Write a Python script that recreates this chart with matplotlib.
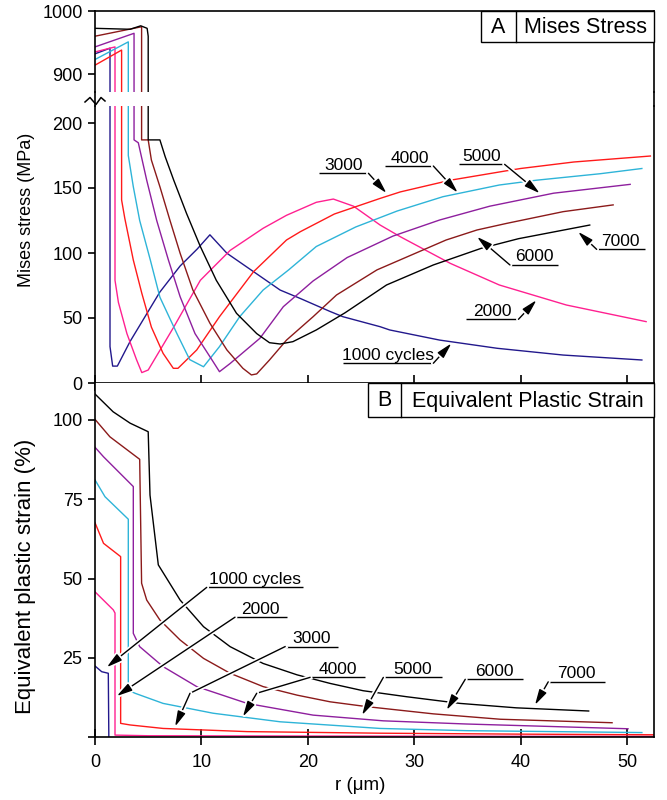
import matplotlib
matplotlib.use("Agg")
import matplotlib.pyplot as plt
import matplotlib.patheffects as pe
from matplotlib.lines import Line2D
from matplotlib.patches import Rectangle

plt.rcParams['font.family'] = ['Liberation Sans', 'DejaVu Sans']

# ---------------- data ----------------
cycles = [1000, 2000, 3000, 4000, 5000, 6000, 7000]
colors = ['#22188c', '#ff2090', '#ff1a1a', '#2eb4d8', '#8e1f9e', '#8b1a1a', '#000000']

# Panel A: Mises stress (MPa) vs r (um)
mises_r_1000 = [0, 1.41, 1.41, 1.66, 2.1, 3.3, 6.1, 8.0, 9.6, 10.8, 12.4, 17.4, 19.3, 22.1, 23.3, 26.8, 27.7, 32.4, 37.8, 44.0, 51.4]
mises_s_1000 = [932, 941, 28, 13, 13, 32, 70, 90, 103, 114, 99.8, 71.5, 65, 55, 51, 43.3, 40.8, 33, 26.7, 21.5, 17.7]

mises_r_2000 = [0, 1.88, 1.88, 2.2, 3.0, 3.9, 4.4, 5.0, 7.4, 9.9, 12.7, 15.8, 18.0, 20.8, 22.4, 24.3, 26.8, 28.7, 33.4, 38.0, 44.3, 51.8]
mises_s_2000 = [935, 943, 79, 62, 38, 18, 8, 10, 43, 79, 102, 119, 129, 139, 141.5, 136, 121.5, 112.5, 92, 75.4, 60, 47.2]

mises_r_3000 = [0, 2.5, 2.5, 2.8, 3.6, 4.4, 5.3, 6.4, 7.36, 7.8, 9.56, 11.7, 14.9, 18.0, 19.3, 22.5, 26.8, 28.7, 33.4, 38.5, 40.0, 45.0, 52.2]
mises_s_3000 = [914, 938, 140.8, 126.7, 94.6, 69, 43, 22.8, 11.3, 11.3, 25.4, 51, 85.6, 110, 116.4, 130, 142, 147, 156, 163, 165, 170, 174.6]

mises_r_4000 = [0, 3.13, 3.13, 3.6, 4.2, 5.2, 6.1, 7.7, 8.9, 10.2, 11.7, 13.6, 15.8, 18.2, 20.8, 24.5, 28.4, 32.7, 38.0, 41.5, 47.5, 51.4]
mises_s_4000 = [923, 951, 175, 151, 125, 94.6, 66, 38, 18, 12.5, 28, 51, 71.5, 87, 105, 120, 132.3, 143.3, 152.3, 156, 161, 165]

mises_r_5000 = [0, 3.67, 3.67, 4.07, 4.86, 5.8, 6.9, 8.0, 9.4, 11.0, 11.7, 12.7, 15.5, 17.7, 20.5, 23.7, 28.0, 32.4, 37.1, 43.1, 50.3]
mises_s_5000 = [943, 964.6, 187, 184.8, 156, 125, 94.6, 66.4, 38, 17.7, 8.7, 15, 34.4, 58.7, 78.5, 96.5, 113, 125.4, 136, 146, 152.8]

mises_r_6000 = [0, 4.38, 4.38, 5.0, 5.3, 6.1, 7.05, 8.0, 9.2, 10.8, 12.4, 13.9, 14.7, 15.2, 16.4, 18.0, 20.5, 22.7, 26.5, 33.0, 35.9, 38.7, 44.0, 48.7]
mises_s_6000 = [960, 975, 187, 187, 171.5, 151, 125, 99.8, 71.5, 46, 25.4, 11.3, 6.2, 7, 17.7, 33, 51, 67.7, 87, 110, 117.7, 122.8, 131.8, 137]

mises_r_7000 = [0, 3.3, 4.3, 4.9, 5.0, 5.0, 6.1, 6.6, 7.4, 8.6, 9.9, 11.4, 13.3, 15.2, 16.4, 17.4, 18.6, 20.8, 23.5, 27.4, 31.8, 36.3, 39.8, 46.5]
mises_s_7000 = [972.5, 971, 976.5, 972.5, 960, 187, 187, 174, 156, 130.5, 105, 79, 53.6, 38, 31, 30, 31.8, 40.8, 54, 75.4, 90.8, 103.6, 111, 121.5]

# Panel B: equivalent plastic strain (%) vs r (um)
peeq_r_1000 = [0, 0.63, 1.25, 1.3]
peeq_e_1000 = [22.4, 20.6, 20.1, 0.0]

peeq_r_2000 = [0, 1.72, 1.88, 1.88, 5.0, 20.0, 52.5]
peeq_e_2000 = [45.8, 40.1, 39.1, 0.6, 0.4, 0.3, 0.2]

peeq_r_3000 = [0, 0.8, 2.41, 2.41, 3.3, 6.4, 14.3, 26.8, 40.0, 52.5]
peeq_e_3000 = [67.6, 61.1, 56.9, 4.3, 3.8, 2.7, 1.7, 1.2, 0.9, 0.7]

peeq_r_4000 = [0, 0.94, 3.13, 3.13, 3.76, 6.4, 11.1, 17.4, 26.8, 34.9, 51.4]
peeq_e_4000 = [81.1, 75.8, 68.7, 14.8, 13.8, 10.6, 7.5, 4.8, 2.7, 2.0, 1.4]

peeq_r_5000 = [0, 0.8, 3.6, 3.6, 4.2, 6.4, 9.56, 14.3, 20.5, 27.1, 34.9, 50.1]
peeq_e_5000 = [91.4, 88.4, 79.0, 32.7, 28.5, 22.2, 15.9, 10.6, 6.9, 5.1, 4.1, 2.6]

peeq_r_6000 = [0, 1.4, 4.2, 4.38, 4.86, 6.1, 8.0, 10.2, 12.7, 15.8, 19.0, 22.1, 25.5, 31.8, 38.1, 48.6]
peeq_e_6000 = [100.2, 94.7, 87.6, 48.5, 43.2, 36.9, 30.6, 24.8, 20.1, 15.9, 13.2, 11.1, 9.6, 7.3, 5.6, 4.5]

peeq_r_7000 = [0, 1.7, 3.3, 5.0, 5.17, 5.95, 8.0, 10.2, 12.7, 15.8, 19.0, 22.1, 25.2, 29.3, 34.3, 39.6, 46.4]
peeq_e_7000 = [108.2, 102.6, 99.0, 96.3, 76.3, 54.3, 43.2, 34.8, 28.5, 23.2, 19.6, 16.9, 14.6, 12.7, 10.6, 9.2, 8.2]

mises_series = [(mises_r_1000, mises_s_1000), (mises_r_2000, mises_s_2000), (mises_r_3000, mises_s_3000),
                (mises_r_4000, mises_s_4000), (mises_r_5000, mises_s_5000), (mises_r_6000, mises_s_6000),
                (mises_r_7000, mises_s_7000)]
peeq_series = [(peeq_r_1000, peeq_e_1000), (peeq_r_2000, peeq_e_2000), (peeq_r_3000, peeq_e_3000),
               (peeq_r_4000, peeq_e_4000), (peeq_r_5000, peeq_e_5000), (peeq_r_6000, peeq_e_6000),
               (peeq_r_7000, peeq_e_7000)]

x_ticks = [0, 10, 20, 30, 40, 50]
mises_ticks_low = [0, 50, 100, 150, 200]
mises_ticks_high = [900, 1000]
peeq_ticks = [0, 25, 50, 75, 100]
peeq_ticklabels = ['', '25', '50', '75', '100']

# ---------------- layout ----------------
W, H = 667, 800
fig = plt.figure(figsize=(W / 100, H / 100), dpi=100)


def rect(x0, y0, x1, y1):
    return [x0 / W, 1 - y1 / H, (x1 - x0) / W, (y1 - y0) / H]


def fpt(x, y):
    return x / W, 1 - y / H


L, R = 95, 654
ax_top = fig.add_axes(rect(L, 11, R, 92))
ax_a = fig.add_axes(rect(L, 106, R, 383))
ax_b = fig.add_axes(rect(L, 383, R, 737))

XMAX = 52.54
SPW = 1.2
TICKFS = 13

for ax in (ax_top, ax_a, ax_b):
    ax.set_xlim(0, XMAX)
    for s in ax.spines.values():
        s.set_linewidth(SPW)
    ax.tick_params(axis='y', direction='out', length=5, width=SPW, labelsize=TICKFS, pad=4)
    ax.tick_params(axis='x', labelsize=TICKFS)

ax_top.set_ylim(1000 - 81 / 0.63, 1000)
ax_a.set_ylim(0, 277 / 1.3)
ax_b.set_ylim(0, 354 / 3.17)

ax_top.spines['bottom'].set_visible(False)
ax_a.spines['top'].set_visible(False)
ax_top.set_xticks([])
ax_top.set_yticks(mises_ticks_high)
ax_a.set_yticks(mises_ticks_low)
ax_a.set_xticks(x_ticks)
ax_a.tick_params(axis='x', direction='inout', length=11, width=SPW, labelbottom=False)
ax_b.set_yticks(peeq_ticks)
ax_b.set_yticklabels(peeq_ticklabels)
ax_b.set_xticks(x_ticks)
ax_b.tick_params(axis='x', direction='inout', length=11, width=SPW, pad=7)
ax_b.spines['top'].set_visible(False)

# curves
for (r, s), c in zip(mises_series, colors):
    ax_top.plot(r, s, color=c, lw=1.0)
    ax_a.plot(r, s, color=c, lw=1.0)
for (r, e), c in zip(peeq_series, colors):
    ax_b.plot(r, e, color=c, lw=1.0)

# broken-axis spines and break mark
for x in (L, R):
    (x0, y0), (x1, y1) = fpt(x, 92), fpt(x, 106)
    fig.add_artist(Line2D([x0, x1], [y0, y1], color='k', lw=SPW, transform=fig.transFigure))
zz = [(85, 102), (90, 97.5), (96, 104.5), (101, 97.5), (105, 101)]
fig.add_artist(Line2D([fpt(*p)[0] for p in zz], [fpt(*p)[1] for p in zz], color='k', lw=1.1,
                      transform=fig.transFigure))

# labels
fig.text(*fpt(27, 210), 'Mises stress (MPa)', rotation=90, ha='center', va='center', fontsize=13)
fig.text(*fpt(26, 576), 'Equivalent plastic strain (%)', rotation=90, ha='center', va='center', fontsize=16)
fig.text(*fpt(360, 786), 'r (\u03bcm)', ha='center', va='center', fontsize=13.5)

# panel title boxes
def title_box(x0, y0, xd, x1, y1, letter, title):
    fig.add_artist(Rectangle(fpt(x0, y1), (x1 - x0) / W, (y1 - y0) / H, transform=fig.transFigure,
                             facecolor='white', edgecolor='k', lw=1.0, zorder=5))
    fig.add_artist(Line2D([xd / W, xd / W], [1 - y0 / H, 1 - y1 / H], color='k', lw=1.0,
                          transform=fig.transFigure, zorder=6))
    ym = (y0 + y1) / 2
    fig.text(*fpt((x0 + xd) / 2, ym + 1), letter, ha='center', va='center', fontsize=15.5, zorder=7)
    fig.text(*fpt((xd + x1) / 2, ym + 1), title, ha='center', va='center', fontsize=15.5, zorder=7)


title_box(481, 11, 516, R, 42, 'A', 'Mises Stress')
title_box(368, 383, 401, R, 417, 'B', 'Equivalent Plastic Strain')

# leader labels
halo = [pe.withStroke(linewidth=3.5, foreground='white')]
ANN_FS = 12.5


def leader(ax, text, ux0, ux1, uy, start, tip, kink=None):
    ax.plot([ux0, ux1], [uy, uy], color='k', lw=1.0, solid_capstyle='butt', zorder=4)
    ax.annotate(text, xy=((ux0 + ux1) / 2, uy), xytext=(0, 2.5), textcoords='offset points',
                ha='center', va='baseline', fontsize=ANN_FS, zorder=5)
    if kink is not None:
        ax.plot([start[0], kink[0]], [start[1], kink[1]], color='k', lw=1.0, zorder=4,
                path_effects=halo)
        start = kink
    ax.annotate('', xy=tip, xytext=start, zorder=4,
                arrowprops=dict(arrowstyle='-|>,head_length=0.85,head_width=0.22', color='k', lw=1.0,
                                shrinkA=0, shrinkB=0, mutation_scale=11, path_effects=halo))


# panel A
leader(ax_a, '3000', 21.1, 25.7, 161.3, (25.7, 161.3), (27.4, 146.0))
leader(ax_a, '4000', 27.3, 31.8, 166.9, (31.8, 166.9), (34.1, 146.4))
leader(ax_a, '5000', 34.2, 38.5, 168.2, (38.5, 168.2), (41.8, 145.9))
leader(ax_a, '6000', 39.0, 43.5, 90.8, (39.0, 90.8), (35.9, 112.5))
leader(ax_a, '7000', 47.15, 51.7, 102.8, (47.15, 102.8), (45.4, 116.4))
leader(ax_a, '2000', 34.9, 39.8, 49.0, (39.8, 49.0), (41.5, 63.8))
leader(ax_a, '1000 cycles', 23.3, 31.8, 15.2, (31.8, 15.2), (33.5, 30.5))

# panel B
leader(ax_b, '1000 cycles', 10.5, 19.55, 47.2, (10.5, 47.2), (1.1, 22.0))
leader(ax_b, '2000', 13.16, 18.0, 37.8, (13.16, 37.8), (2.04, 12.9))
leader(ax_b, '3000', 17.86, 22.87, 28.5, (17.86, 28.5), (7.52, 3.25), kink=(8.93, 13.8))
leader(ax_b, '4000', 20.2, 25.4, 18.8, (20.2, 18.8), (13.9, 6.4), kink=(15.2, 13.8))
leader(ax_b, '5000', 27.1, 32.6, 18.8, (27.1, 18.8), (25.1, 6.9))
leader(ax_b, '6000', 34.8, 40.2, 18.2, (34.8, 18.2), (33.05, 8.5))
leader(ax_b, '7000', 42.6, 47.9, 17.4, (42.6, 17.4), (41.35, 10.1))

fig.savefig('out.png', dpi=100)
